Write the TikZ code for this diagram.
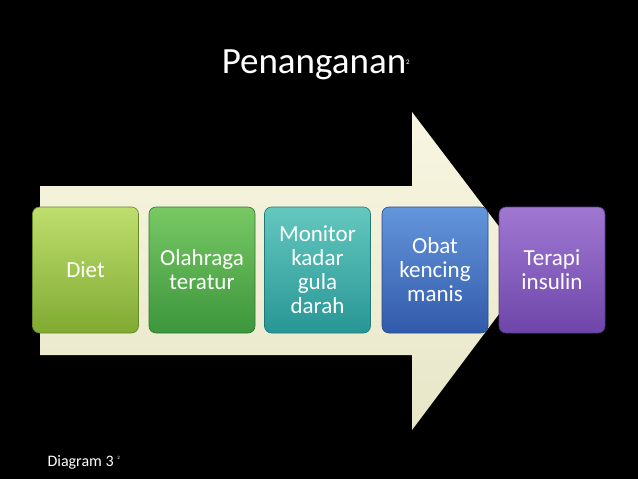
\documentclass[tikz,border=0pt]{standalone}
\usepackage{fontspec}
\setmainfont{Carlito}
\definecolor{g1t}{RGB}{190,222,110}\definecolor{g1b}{RGB}{128,170,50}
\definecolor{g2t}{RGB}{120,200,100}\definecolor{g2b}{RGB}{60,150,60}
\definecolor{c3t}{RGB}{100,200,190}\definecolor{c3b}{RGB}{40,150,150}
\definecolor{b4t}{RGB}{100,150,220}\definecolor{b4b}{RGB}{50,90,170}
\definecolor{p5t}{RGB}{160,120,210}\definecolor{p5b}{RGB}{110,70,170}
\definecolor{arT}{RGB}{248,246,225}\definecolor{arB}{RGB}{232,230,200}
\begin{document}
\begin{tikzpicture}[x=1pt,y=-1pt,
  bx/.style={rounded corners=7pt,draw=#1,line width=0.6pt,minimum width=106pt,minimum height=126pt,align=center,text=white,font=\fontsize{23}{24}\selectfont,inner sep=2pt},
]
\fill[black] (0,0) rectangle (638,479);
\useasboundingbox (0,0) rectangle (638,479);
\node[text=white,font=\fontsize{37}{40}\selectfont] (title) at (316,65) {Penanganan\textsuperscript{\scriptsize 2}};
\fill[top color=arT,bottom color=arB] (40,186) -- (412,186) -- (412,112) -- (532,270) -- (412,430) -- (412,355) -- (40,355) -- cycle;
\node[bx=g1b!80!black,top color=g1t,bottom color=g1b] (b1) at (85.5,270) {Diet};
\node[bx=g2b!80!black,top color=g2t,bottom color=g2b] (b2) at (202,270) {Olahraga\\teratur};
\node[bx=c3b!80!black,top color=c3t,bottom color=c3b] (b3) at (317.5,270) {Monitor\\kadar\\gula\\darah};
\node[bx=b4b!80!black,top color=b4t,bottom color=b4b] (b4) at (435,270) {Obat\\kencing\\manis};
\node[bx=p5b!80!black,top color=p5t,bottom color=p5b] (b5) at (552,270) {Terapi\\insulin};
\node[text=white,anchor=west,font=\fontsize{16}{17}\selectfont] (cap) at (44,462) {Diagram 3 \textsuperscript{\tiny 2}};
\end{tikzpicture}
\end{document}
